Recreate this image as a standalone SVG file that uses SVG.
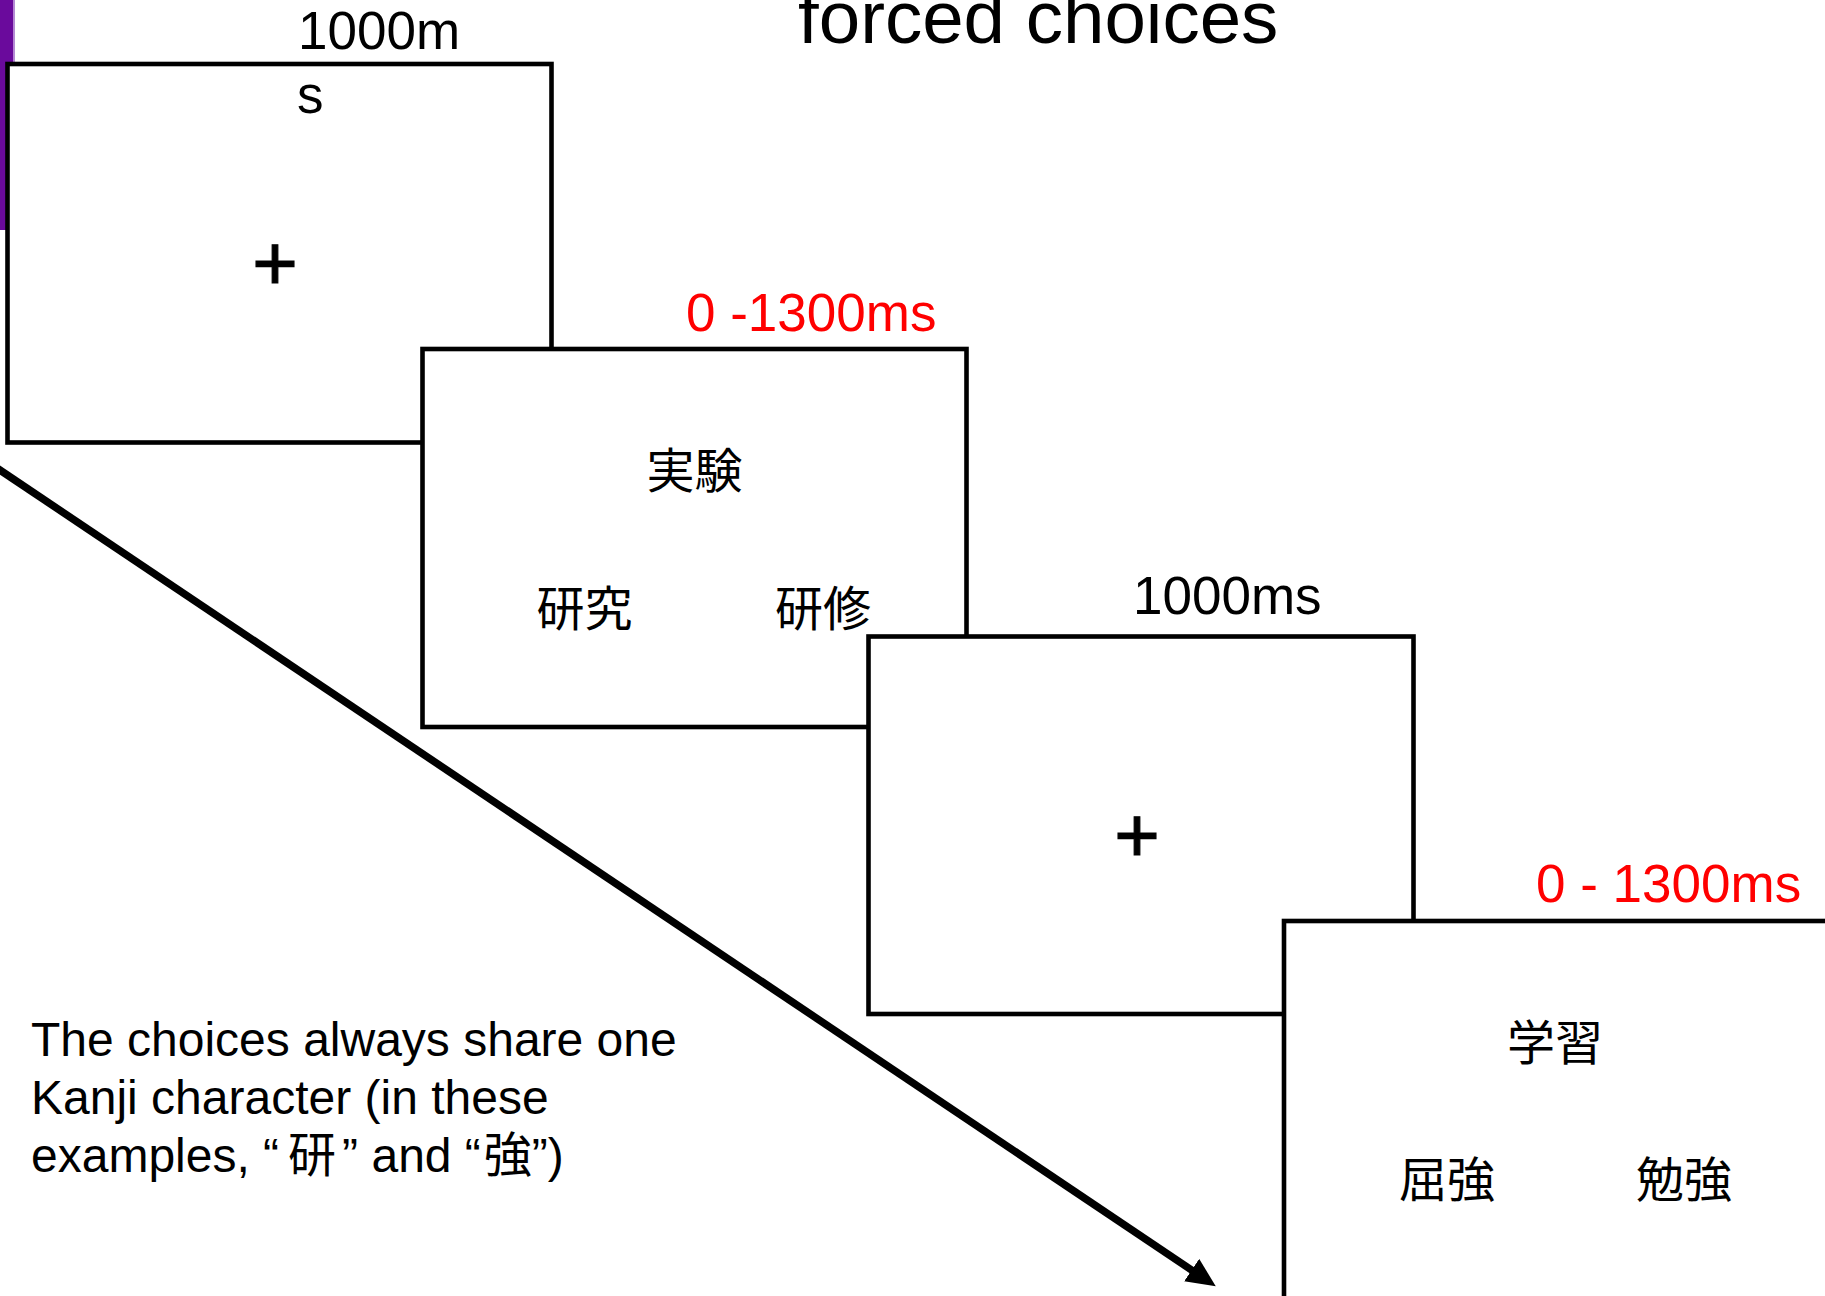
<svg xmlns="http://www.w3.org/2000/svg" width="1825" height="1296" viewBox="0 0 1825 1296">
  <style>
    .screen { fill: #ffffff; stroke: #000000; stroke-width: 4.6; }
    .lbl { font-family: "Liberation Sans", Arial, sans-serif; font-size: 53px; fill: #000000; }
    .red { fill: #ff0000; }
    .kanji { font-family: "Noto Sans CJK JP", "Noto Sans CJK SC", sans-serif; font-size: 48px; fill: #000000; text-anchor: middle; }
    .fix { font-family: "Liberation Sans", Arial, sans-serif; font-size: 78px; fill: #000000; stroke: #000000; stroke-width: 1.2; text-anchor: middle; }
    .note { font-family: "Liberation Sans", Arial, "Noto Sans CJK JP", sans-serif; font-size: 48px; fill: #000000; }
    .conn { stroke: #000000; stroke-width: 7.5; fill: none; }
  </style>
  <defs>
    <marker id="arrow" markerUnits="userSpaceOnUse" markerWidth="32" markerHeight="28" refX="4" refY="13.5" orient="auto">
      <path d="M0,0 L29,13.5 L0,27 z" fill="#000000"/>
    </marker>
  </defs>
  <rect x="0" y="0" width="1825" height="1296" fill="#ffffff"/>
  <g id="sidebar">
    <rect x="0" y="0" width="13.5" height="230" fill="#6a0a9c"/>
    <rect x="13.5" y="0" width="1.5" height="230" fill="#b58ad6"/>
  </g>
  <text class="lbl" x="798" y="43" style="font-size:74.5px">forced choices</text>

  <g id="connectors">
    <line class="conn" x1="-10" y1="463.4" x2="1195" y2="1272.3" marker-end="url(#arrow)"/>
  </g>

  <g id="screen1">
    <rect class="screen" x="7.5" y="64" width="544" height="378.5"/>
    <text class="lbl" x="298" y="49">1000m</text>
    <text class="lbl" x="297" y="113">s</text>
    <text class="fix" x="275" y="290">+</text>
  </g>

  <g id="screen2">
    <rect class="screen" x="422.5" y="349" width="544" height="378"/>
    <text class="lbl red" x="686" y="331">0 -1300ms</text>
    <text class="kanji" x="694.5" y="488">実験</text>
    <text class="kanji" x="584.5" y="626">研究</text>
    <text class="kanji" x="823" y="626">研修</text>
  </g>

  <g id="screen3">
    <rect class="screen" x="868.5" y="636.5" width="545" height="377.5"/>
    <text class="lbl" x="1133" y="614">1000ms</text>
    <text class="fix" x="1137" y="862">+</text>
  </g>

  <g id="screen4">
    <rect class="screen" x="1284" y="921" width="545" height="380"/>
    <text class="lbl red" x="1536" y="902">0 - 1300ms</text>
    <text class="kanji" x="1555" y="1060">学習</text>
    <text class="kanji" x="1447" y="1197">屈強</text>
    <text class="kanji" x="1684" y="1197">勉強</text>
  </g>

  <g id="note">
    <text class="note" x="31" y="1056">The choices always share one</text>
    <text class="note" x="31" y="1114">Kanji character (in these</text>
    <text class="note" x="31" y="1172">examples, “<tspan dx="9">研</tspan><tspan dx="6">”</tspan> and “<tspan dx="3">強</tspan>”)</text>
  </g>
</svg>
